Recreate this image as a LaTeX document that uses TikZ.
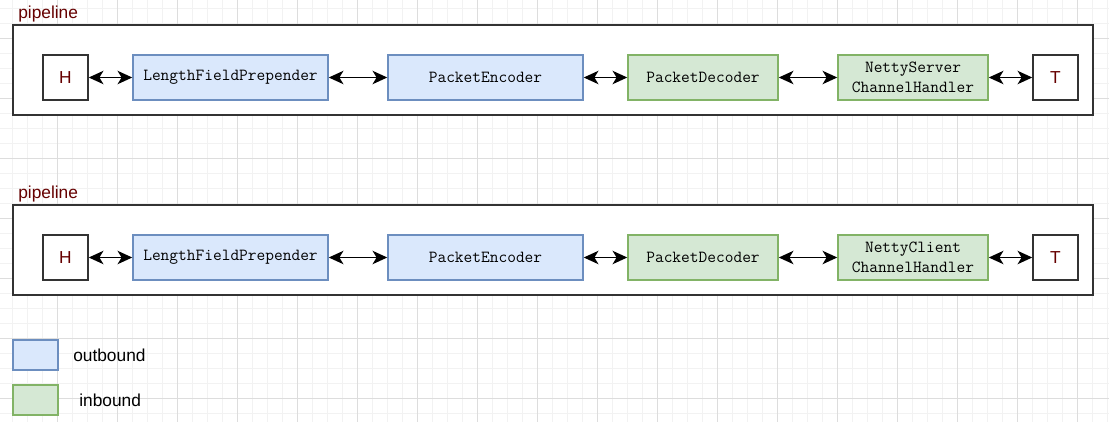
\documentclass[tikz,border=0pt]{standalone}
\usepackage{fontspec}
\setmainfont{Liberation Sans}
\usetikzlibrary{arrows.meta}
\definecolor{outfill}{HTML}{DAE8FC}
\definecolor{outline}{HTML}{6C8EBF}
\definecolor{infill}{HTML}{D5E8D4}
\definecolor{inline}{HTML}{82B366}
\definecolor{labelred}{HTML}{660000}
\definecolor{gridminor}{HTML}{F2F2F2}
\definecolor{gridmajor}{HTML}{DDDDDD}
\tikzset{
  pipebox/.style={draw=black!80,line width=1.5pt,fill=white,minimum width=810pt,minimum height=67.5pt,inner sep=0pt},
  pipelabel/.style={anchor=base west,inner sep=0pt,text=labelred,font=\fontsize{13}{15}\selectfont},
  endbox/.style={draw=black!80,line width=1.1pt,fill=white,minimum width=33.75pt,minimum height=33.75pt,inner sep=0pt,text=labelred,font=\fontsize{13}{15}\selectfont},
  outbox/.style={draw=outline,line width=1.1pt,fill=outfill,minimum height=33.75pt,inner sep=0pt,align=center,font=\ttfamily\fontsize{12.7}{15}\selectfont},
  inbox/.style={draw=inline,line width=1.1pt,fill=infill,minimum height=33.75pt,inner sep=0pt,align=center,font=\ttfamily\fontsize{12.7}{15}\selectfont},
  link/.style={<->,>={Stealth[length=11pt,width=10pt,inset=3pt]},line width=1.4pt},
  legendtext/.style={anchor=west,inner sep=0pt,font=\fontsize{13}{15}\selectfont}
}
\begin{document}
\begin{tikzpicture}[x=0.75pt,y=-0.75pt]
    \useasboundingbox[fill=white] (0,0) rectangle (1109,422);
    %% background grid
    \foreach \x in {12,27,...,1107} \draw[gridminor,line width=0.6pt] (\x,0) -- (\x,422);
    \foreach \y in {8,23,...,420} \draw[gridminor,line width=0.6pt] (0,\y) -- (1109,\y);
    \foreach \x in {57,117,...,1077} \draw[gridmajor,line width=0.6pt] (\x,0) -- (\x,422);
    \foreach \y in {38,98,...,398} \draw[gridmajor,line width=0.6pt] (0,\y) -- (1109,\y);
    %% server pipeline
    \node[pipelabel] (srvlabel) at (18,18) {pipeline};
    \node[pipebox] (srvpipe) at (553,70) {};
    \node[endbox] (srvhead) at (65.5,77.5) {H};
    \node[outbox,minimum width=146.25pt] (srvprep) at (230.5,77.5) {LengthFieldPrepender};
    \node[outbox,minimum width=146.25pt] (srvenc) at (485.5,77.5) {PacketEncoder};
    \node[inbox,minimum width=112.5pt] (srvdec) at (703,77.5) {PacketDecoder};
    \node[inbox,minimum width=112.5pt] (srvhand) at (913,77.5) {NettyServer\\ChannelHandler};
    \node[endbox] (srvtail) at (1055.5,77.5) {T};
    \draw[link] (srvhead) -- (srvprep);
    \draw[link] (srvprep) -- (srvenc);
    \draw[link] (srvenc) -- (srvdec);
    \draw[link] (srvdec) -- (srvhand);
    \draw[link] (srvhand) -- (srvtail);
    %% client pipeline
    \node[pipelabel] (clilabel) at (18,198) {pipeline};
    \node[pipebox] (clipipe) at (553,250) {};
    \node[endbox] (clihead) at (65.5,257.5) {H};
    \node[outbox,minimum width=146.25pt] (cliprep) at (230.5,257.5) {LengthFieldPrepender};
    \node[outbox,minimum width=146.25pt] (clienc) at (485.5,257.5) {PacketEncoder};
    \node[inbox,minimum width=112.5pt] (clidec) at (703,257.5) {PacketDecoder};
    \node[inbox,minimum width=112.5pt] (clihand) at (913,257.5) {NettyClient\\ChannelHandler};
    \node[endbox] (clitail) at (1055.5,257.5) {T};
    \draw[link] (clihead) -- (cliprep);
    \draw[link] (cliprep) -- (clienc);
    \draw[link] (clienc) -- (clidec);
    \draw[link] (clidec) -- (clihand);
    \draw[link] (clihand) -- (clitail);
    %% legend
    \node[outbox,minimum width=33.75pt,minimum height=22.5pt] (keyout) at (35.5,355) {};
    \node[legendtext] (keyouttext) at (73,355) {outbound};
    \node[inbox,minimum width=33.75pt,minimum height=22.5pt] (keyin) at (35.5,400) {};
    \node[legendtext] (keyintext) at (79,400) {inbound};
\end{tikzpicture}
\end{document}
